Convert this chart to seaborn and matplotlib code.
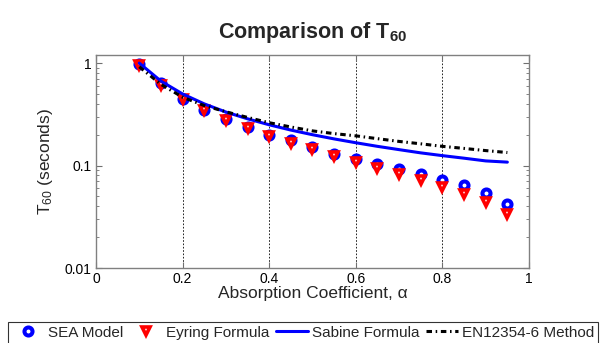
import matplotlib
matplotlib.use("Agg")
import matplotlib.pyplot as plt
import seaborn as sns
import pandas as pd
from matplotlib.ticker import FixedLocator, LogLocator, NullFormatter

alpha = [0.10, 0.15, 0.20, 0.25, 0.30, 0.35, 0.40, 0.45, 0.50,
         0.55, 0.60, 0.65, 0.70, 0.75, 0.80, 0.85, 0.90, 0.95]
sea_model = [0.98, 0.64, 0.45, 0.35, 0.287, 0.238, 0.200, 0.176, 0.151,
             0.130, 0.116, 0.104, 0.093, 0.083, 0.072, 0.064, 0.054, 0.042]
eyring = [0.95, 0.615, 0.448, 0.348, 0.280, 0.232, 0.196, 0.167, 0.144,
          0.125, 0.109, 0.095, 0.083, 0.072, 0.062, 0.053, 0.044, 0.034]
sabine = [1.0, 0.667, 0.50, 0.40, 0.333, 0.286, 0.25, 0.222, 0.20,
          0.182, 0.167, 0.154, 0.143, 0.133, 0.125, 0.118, 0.111, 0.108]
en12354 = [0.92, 0.62, 0.465, 0.385, 0.335, 0.295, 0.262, 0.238, 0.218,
           0.205, 0.195, 0.183, 0.172, 0.163, 0.154, 0.147, 0.140, 0.134]

xticks = [0, 0.2, 0.4, 0.6, 0.8, 1]
xticklabels = ["0", "0.2", "0.4", "0.6", "0.8", "1"]
yticks = [0.01, 0.1, 1]
yticklabels = ["0.01", "0.1", "1"]

df = pd.DataFrame({"alpha": alpha, "sea": sea_model, "eyring": eyring,
                   "sabine": sabine, "en": en12354})

sns.set_theme(style="white")
plt.rcParams["font.family"] = ["Liberation Sans", "DejaVu Sans"]
plt.rcParams["mathtext.fontset"] = "custom"
plt.rcParams["mathtext.rm"] = "Liberation Sans"
plt.rcParams["mathtext.it"] = "Liberation Sans:italic"
plt.rcParams["mathtext.bf"] = "Liberation Sans:bold"

fig = plt.figure(figsize=(6.03, 3.43), dpi=100)
ax = fig.add_axes([96 / 603, 1 - 268 / 343, (529 - 96) / 603, (268 - 55) / 343])

for xv in [0.2, 0.4, 0.6, 0.8]:
    ax.axvline(xv, color="black", linestyle=(0, (2, 2)), linewidth=0.6, zorder=0)

sns.lineplot(data=df, x="alpha", y="sea", ax=ax, label="SEA Model",
             linestyle="", marker="o", markersize=5.8, markeredgewidth=2.9,
             markerfacecolor="white", markeredgecolor=(0, 0, 1), color=(0, 0, 1), zorder=3)
sns.lineplot(data=df, x="alpha", y="eyring", ax=ax, label="Eyring Formula",
             linestyle="", marker="v", markersize=6.2, markeredgewidth=2.6,
             markerfacecolor="white", markeredgecolor=(1, 0, 0), color=(1, 0, 0), zorder=4)
sns.lineplot(data=df, x="alpha", y="sabine", ax=ax, label="Sabine Formula",
             color=(0, 0, 1), linewidth=2.2, zorder=5)
sns.lineplot(data=df, x="alpha", y="en", ax=ax, label="EN12354-6 Method",
             color="black", linewidth=2.2, linestyle=(0, (1.8, 1.2, 0.5, 1.2)), zorder=6)

ax.set_yscale("log")
ax.set_xlim(0, 1)
ax.set_ylim(0.01, 1.2)
ax.xaxis.set_major_locator(FixedLocator(xticks))
ax.set_xticklabels(xticklabels)
ax.yaxis.set_major_locator(FixedLocator(yticks))
ax.set_yticklabels(yticklabels)
ax.yaxis.set_minor_locator(LogLocator(base=10, subs=[2, 3, 4, 5, 6, 7, 8, 9]))
ax.yaxis.set_minor_formatter(NullFormatter())

ax.tick_params(axis="both", which="major", direction="in", length=4, width=0.8,
               colors="#707070", labelcolor="black", labelsize=10, top=True, right=True,
               left=True, bottom=True, pad=3)
ax.tick_params(axis="y", which="minor", direction="in", length=2.5, width=0.6,
               colors="#707070", left=True, right=True)
for s in ax.spines.values():
    s.set_color("#808080")
    s.set_linewidth(1.0)

ax.set_xlabel("Absorption Coefficient, \u03b1", fontsize=12.5, labelpad=0)
ax.set_ylabel(r"T$_{60}$ (seconds)", fontsize=12.5, labelpad=7)
ax.set_title(r"Comparison of T$_{\mathbf{60}}$", fontsize=15.5, fontweight="bold", pad=12)

ax.get_legend().remove()
handles, labels = ax.get_legend_handles_labels()
leg = fig.legend(handles, labels, loc="upper left", bbox_to_anchor=(8 / 603, 1 - 322 / 343),
                 ncol=4, frameon=True, fontsize=11, handlelength=2.1, handletextpad=0.25,
                 columnspacing=0.45, borderpad=0.25, borderaxespad=0, fancybox=False)
leg.get_frame().set_edgecolor("black")
leg.get_frame().set_linewidth(0.8)

fig.savefig("out.png", dpi=100)
